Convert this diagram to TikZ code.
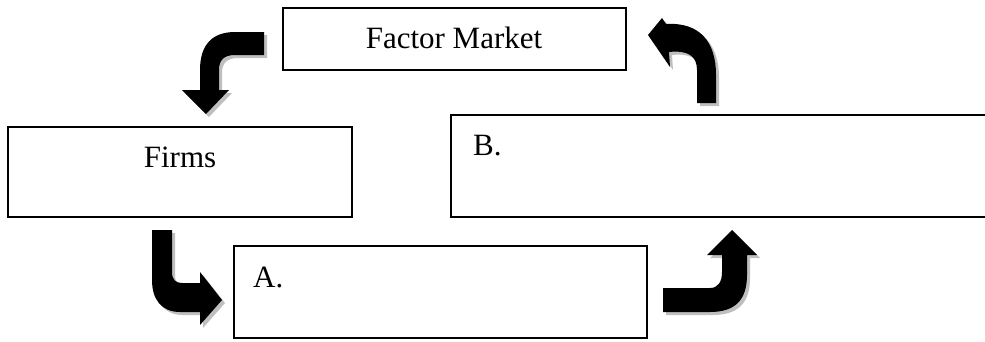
\documentclass[tikz,border=0pt]{standalone}
\usepackage{fontspec}
\setmainfont{Liberation Serif}
\begin{document}
\begin{tikzpicture}[x=1pt,y=-1pt,
  box/.style={draw=black,line width=1.6pt,fill=white,inner sep=0pt},
  lbl/.style={inner sep=0pt,font=\fontsize{31}{36}\selectfont},
  arrowshape/.style={fill=black},
  arrowshadow/.style={fill=black!25}]
\clip (0,0) rectangle (985,341);
\fill[white] (0,0) rectangle (985,341);
% boxes
\node[box,minimum width=343pt,minimum height=62pt] (fm) at (454.5,39) {};
\node[box,minimum width=344pt,minimum height=90pt] (firms) at (180,172) {};
\node[box,minimum width=539pt,minimum height=102pt] (bbox) at (720.5,166) {};
\node[box,minimum width=413pt,minimum height=92pt] (abox) at (440.5,292) {};
% labels
\node[lbl,anchor=base] (fmt) at (454,48) {Factor Market};
\node[lbl,anchor=base] (firmst) at (180,167) {Firms};
\node[lbl,anchor=base west] (bt) at (473,155) {B.};
\node[lbl,anchor=base west] (at) at (253,287) {A.};
% arrow shapes (with shadows)
\def\arrowone{(264,32) -- (235,32) .. controls (212,32) and (200,45) .. (200,70) -- (200,90) -- (182,90) -- (206,114) -- (229,90) -- (219,90) -- (219,70) .. controls (219,60) and (224,55) .. (235,55) -- (264,55) -- cycle}
\def\arrowtwo{(697,103) -- (697,70) .. controls (697,56) and (688,50) .. (669,52) -- (670,67) -- (648,35) -- (662,18) -- (666,24) .. controls (700,22) and (716,42) .. (716,75) -- (716,103) -- cycle}
\def\arrowthree{(152,230) -- (152,280) .. controls (152,300) and (162,312) .. (180,312) -- (200,312) -- (200,325) -- (222,300) -- (200,272) -- (200,283) -- (182,283) .. controls (176,283) and (172,280) .. (172,272) -- (172,230) -- cycle}
\def\arrowfour{(663,288) -- (710,288) .. controls (718,288) and (722,282) .. (722,272) -- (722,255) -- (707,255) -- (732,230) -- (757,255) -- (747,255) -- (747,275) .. controls (747,300) and (735,312) .. (710,312) -- (663,312) -- cycle}
\begin{scope}[shift={(3,3)}]
\fill[arrowshadow] \arrowone;
\fill[arrowshadow] \arrowtwo;
\fill[arrowshadow] \arrowthree;
\fill[arrowshadow] \arrowfour;
\end{scope}
\fill[arrowshape] \arrowone;
\fill[arrowshape] \arrowtwo;
\fill[arrowshape] \arrowthree;
\fill[arrowshape] \arrowfour;
\end{tikzpicture}
\end{document}
